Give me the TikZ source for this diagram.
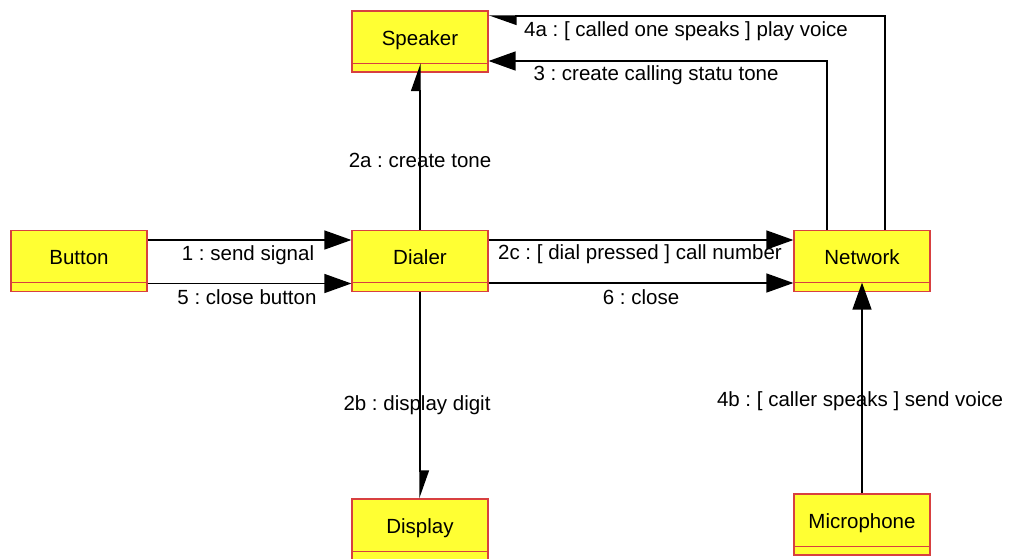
\documentclass[tikz,border=0pt]{standalone}
\usepackage{fontspec}
\setmainfont{Liberation Sans}
\usetikzlibrary{arrows.meta, calc}
\definecolor{clsfill}{HTML}{FFFF33}
\definecolor{clsline}{HTML}{D84040}
\tikzset{
    >={Triangle[length=27pt, width=19pt]},
    cls/.style={rectangle, draw=clsline, fill=clsfill, line width=1.2pt,
        minimum width=136pt, minimum height=61pt, inner sep=0pt,
        text height=20pt, text depth=12.3pt},
    sep/.style={draw=clsline, line width=1.2pt},
    msg/.style={->, line width=1.4pt},
    halfmsg/.style={-{Triangle[length=26pt, width=18pt, left]}, line width=1.4pt},
    lbl/.style={inner sep=0pt},
}
\frenchspacing

\begin{document}
\begin{tikzpicture}[x=1pt, y=-1pt, font=\fontsize{20.5}{24}\selectfont]
    \useasboundingbox[fill=white] (0,0) rectangle (1010,558);
    % objects
    \node[cls] (speaker) at (420,41.5) {Speaker};
    \node[cls] (button) at (79,261) {Button};
    \node[cls] (dialer) at (420,261) {Dialer};
    \node[cls] (network) at (862,261) {Network};
    \node[cls] (display) at (420,529.5) {Display};
    \node[cls] (microphone) at (862,524.5) {Microphone};
    \foreach \n in {speaker,button,dialer,network,display,microphone}
        \draw[sep] ([yshift=9.5pt]\n.south west) -- ([yshift=9.5pt]\n.south east);
    % messages
    \draw[msg] ([yshift=21pt]button.east) -- ([yshift=21pt]dialer.west);
    \draw[msg] ([yshift=-22.5pt]button.east) -- ([yshift=-22.5pt]dialer.west);
    \draw[msg] ([yshift=21pt]dialer.east) -- ([yshift=21pt]network.west);
    \draw[msg] ([yshift=-22pt]dialer.east) -- ([yshift=-22pt]network.west);
    \draw[halfmsg] (dialer.north) -- ([yshift=9.5pt]speaker.south);
    \draw[halfmsg] (dialer.south) -- (display.north);
    \draw[msg] (microphone.north) -- ([yshift=9.5pt]network.south);
    \draw[msg] ([xshift=-35pt]network.north) |- ([yshift=-19.5pt]speaker.east);
    \draw[halfmsg] ([xshift=23pt]network.north) |- ([yshift=25.5pt]speaker.east);
    % labels
    \node[lbl] (l1) at (248,255) {1 : send signal};
    \node[lbl] (l5) at (247,297) {5 : close button};
    \node[lbl] (l2c) at (640,254) {2c : [ dial pressed ] call number};
    \node[lbl] (l6) at (641,297) {6 : close};
    \node[lbl] (l2a) at (420,160) {2a : create tone};
    \node[lbl] (l2b) at (417,405) {2b : display digit};
    \node[lbl] (l4b) at (860,401) {4b : [ caller speaks ] send voice};
    \node[lbl] (l4a) at (686,31) {4a : [ called one speaks ] play voice};
    \node[lbl] (l3) at (656,75) {3 : create calling statu tone};
\end{tikzpicture}
\end{document}
